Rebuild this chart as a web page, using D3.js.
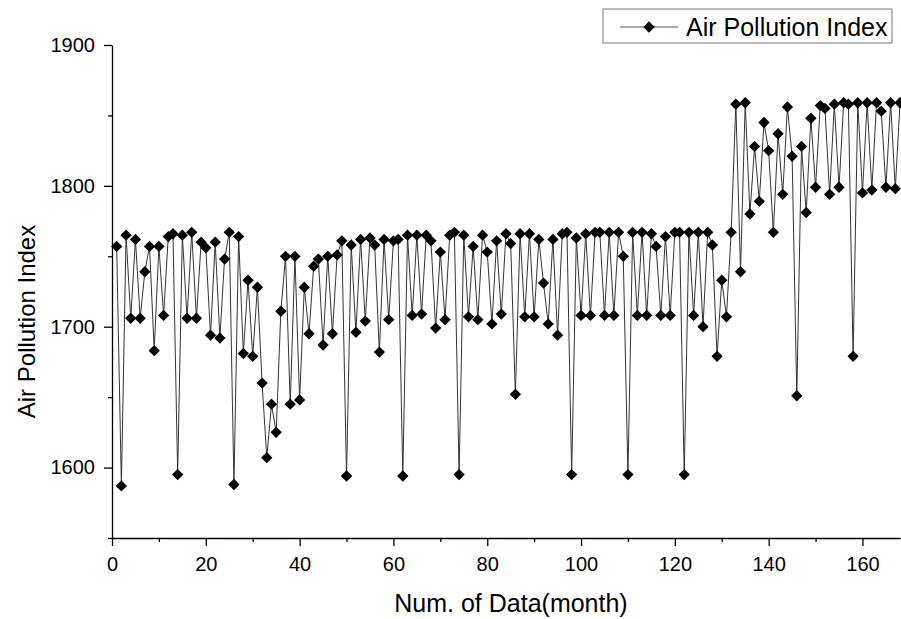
<!DOCTYPE html>
<html>
<head>
<meta charset="utf-8">
<script src="https://cdn.jsdelivr.net/npm/d3@7"></script>
<style>
  body { margin: 0; background: #fff; }
  text { font-family: "Liberation Sans", Arial, sans-serif; fill: #000; }
</style>
</head>
<body>
<div id="chart"></div>
<script>
// monthly air pollution index, months 1..168
const months = d3.range(1, 169);
const pollution = [
  1757, 1587, 1765, 1706, 1762, 1706, 1739, 1757, 1683, 1757, 1708, 1764,
  1766, 1595, 1765, 1706, 1767, 1706, 1760, 1756, 1694, 1760, 1692, 1748,
  1767, 1588, 1764, 1681, 1733, 1679, 1728, 1660, 1607, 1645, 1625, 1711,
  1750, 1645, 1750, 1648, 1728, 1695, 1743, 1748, 1687, 1750, 1695, 1751,
  1761, 1594, 1758, 1696, 1762, 1704, 1763, 1758, 1682, 1762, 1705, 1761,
  1762, 1594, 1765, 1708, 1765, 1709, 1765, 1761, 1699, 1753, 1705, 1765,
  1767, 1595, 1765, 1707, 1757, 1705, 1765, 1753, 1702, 1761, 1709, 1766,
  1759, 1652, 1766, 1707, 1766, 1707, 1762, 1731, 1702, 1762, 1694, 1766,
  1767, 1595, 1763, 1708, 1766, 1708, 1767, 1767, 1708, 1767, 1708, 1767,
  1750, 1595, 1767, 1708, 1767, 1708, 1766, 1757, 1708, 1764, 1708, 1767,
  1767, 1595, 1767, 1708, 1767, 1700, 1767, 1758, 1679, 1733, 1707, 1767,
  1858, 1739, 1859, 1780, 1828, 1789, 1845, 1825, 1767, 1837, 1794, 1856,
  1821, 1651, 1828, 1781, 1848, 1799, 1857, 1855, 1794, 1858, 1799, 1859,
  1858, 1679, 1859, 1795, 1859, 1797, 1859, 1853, 1799, 1859, 1798, 1859
];
const xTicks = [0, 20, 40, 60, 80, 100, 120, 140, 160];
const xMinor = [10, 30, 50, 70, 90, 110, 130, 150];
const yTicks = [1600, 1700, 1800, 1900];
const yMinor = [1550, 1650, 1750, 1850];
const seriesName = "Air Pollution Index";

const width = 901, height = 619;
const margin = { top: 45, right: 1, bottom: 81, left: 112 };

const data = months.map((m, i) => ({ x: m, y: pollution[i] }));

const svg = d3.select("#chart")
  .append("svg")
  .attr("width", width)
  .attr("height", height);

const x = d3.scaleLinear()
  .domain([0, 168])
  .range([margin.left, width - margin.right]);

const y = d3.scaleLinear()
  .domain([1550, 1900])
  .range([height - margin.bottom, margin.top]);

// axes
const gx = svg.append("g")
  .attr("transform", `translate(0,${height - margin.bottom})`)
  .call(d3.axisBottom(x).tickValues(xTicks).tickSize(8).tickSizeOuter(0).tickPadding(11));
svg.append("g")
  .attr("transform", `translate(0,${height - margin.bottom})`)
  .call(d3.axisBottom(x).tickValues(xMinor).tickSize(4).tickFormat(""))
  .call(g => g.select(".domain").remove());

const gy = svg.append("g")
  .attr("transform", `translate(${margin.left},0)`)
  .call(d3.axisLeft(y).tickValues(yTicks).tickFormat(d3.format("d"))
    .tickSize(8).tickSizeOuter(0).tickPadding(9));
svg.append("g")
  .attr("transform", `translate(${margin.left},0)`)
  .call(d3.axisLeft(y).tickValues(yMinor).tickSize(4).tickFormat(""))
  .call(g => g.select(".domain").remove());

svg.selectAll(".domain, .tick line").attr("stroke", "#000").attr("stroke-width", 1.3);
gx.selectAll("text").style("font-size", "20px");
gy.selectAll("text").style("font-size", "20px");

// axis titles
svg.append("text")
  .attr("x", (x(0) + x(168)) / 2 + 5)
  .attr("y", 612)
  .attr("text-anchor", "middle")
  .style("font-size", "25px")
  .text("Num. of Data(month)");

svg.append("text")
  .attr("transform", `translate(35,${(y(1550) + y(1900)) / 2 + 30}) rotate(-90)`)
  .attr("text-anchor", "middle")
  .style("font-size", "24px")
  .text(seriesName);

// line + diamonds
const line = d3.line()
  .x(d => x(d.x))
  .y(d => y(d.y));

svg.append("path")
  .datum(data)
  .attr("fill", "none")
  .attr("stroke", "#333")
  .attr("stroke-width", 1)
  .attr("d", line);

const diamond = d3.symbol().type(d3.symbolSquare).size(64);

svg.append("g")
  .selectAll("path")
  .data(data)
  .join("path")
  .attr("d", diamond)
  .attr("transform", d => `translate(${x(d.x)},${y(d.y)}) rotate(45)`)
  .attr("fill", "#000");

// legend
const legend = svg.append("g").attr("transform", "translate(603,9)");
legend.append("rect")
  .attr("width", 289)
  .attr("height", 34)
  .attr("fill", "#fff")
  .attr("stroke", "#777")
  .attr("stroke-width", 1);
legend.append("line")
  .attr("x1", 17).attr("x2", 75)
  .attr("y1", 18).attr("y2", 18)
  .attr("stroke", "#555");
legend.append("path")
  .attr("d", diamond)
  .attr("transform", "translate(46,18) rotate(45)")
  .attr("fill", "#000");
legend.append("text")
  .attr("x", 83)
  .attr("y", 27)
  .style("font-size", "25px")
  .text(seriesName);
</script>
</body>
</html>
